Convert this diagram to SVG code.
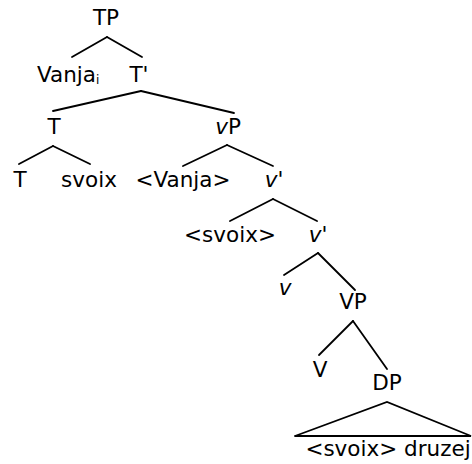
<svg xmlns="http://www.w3.org/2000/svg" width="472" height="464" viewBox="0 0 472 464">
<style>
text{font-family:"DejaVu Sans","Liberation Sans",sans-serif;font-size:21.5px;fill:#000;text-anchor:middle}
.it{font-style:italic}
.sub{font-size:12px}
#edges line,#edges polyline{stroke:#000;stroke-width:1.8;fill:none;stroke-linecap:round}
</style>
<rect width="472" height="464" fill="#fff"/>
<g id="edges">
<line x1="107" y1="37" x2="72" y2="57"/>
<line x1="107" y1="37" x2="142" y2="57"/>
<line x1="141" y1="91" x2="53" y2="111"/>
<line x1="141" y1="91" x2="234" y2="113"/>
<line x1="53" y1="146" x2="19" y2="164"/>
<line x1="53" y1="146" x2="90" y2="164"/>
<line x1="227" y1="145" x2="183" y2="166"/>
<line x1="227" y1="145" x2="273" y2="166"/>
<line x1="273" y1="199" x2="230" y2="221"/>
<line x1="273" y1="199" x2="317" y2="221"/>
<line x1="318" y1="253" x2="284" y2="275"/>
<line x1="318" y1="253" x2="355" y2="290"/>
<line x1="353" y1="321" x2="319" y2="355"/>
<line x1="353" y1="321" x2="387" y2="369"/>
<polyline points="295,436 387,402 471,436 295,436"/>
</g>
<g id="n-TP"><text x="106" y="25">TP</text></g>
<g id="n-Vanja"><text x="37" y="82" style="text-anchor:start">Vanja<tspan class="sub" dy="2">i</tspan></text></g>
<g id="n-Tbar"><text x="139" y="82">T'</text></g>
<g id="n-T"><text x="54" y="134">T</text></g>
<g id="n-vP"><text x="228" y="134"><tspan class="it">v</tspan>P</text></g>
<g id="n-T2"><text x="20" y="187">T</text></g>
<g id="n-svoix"><text x="89" y="187">svoix</text></g>
<g id="n-Vanja2"><text x="183" y="187">&lt;Vanja&gt;</text></g>
<g id="n-vbar1"><text class="it" x="274" y="187">v'</text></g>
<g id="n-svoix2"><text x="230" y="242">&lt;svoix&gt;</text></g>
<g id="n-vbar2"><text class="it" x="318" y="242">v'</text></g>
<g id="n-v"><text class="it" x="285" y="295">v</text></g>
<g id="n-VP"><text x="353" y="309">VP</text></g>
<g id="n-V"><text x="320" y="377">V</text></g>
<g id="n-DP"><text x="387" y="390">DP</text></g>
<g id="n-bottom"><text x="388" y="456">&lt;svoix&gt; druzej</text></g>
</svg>
